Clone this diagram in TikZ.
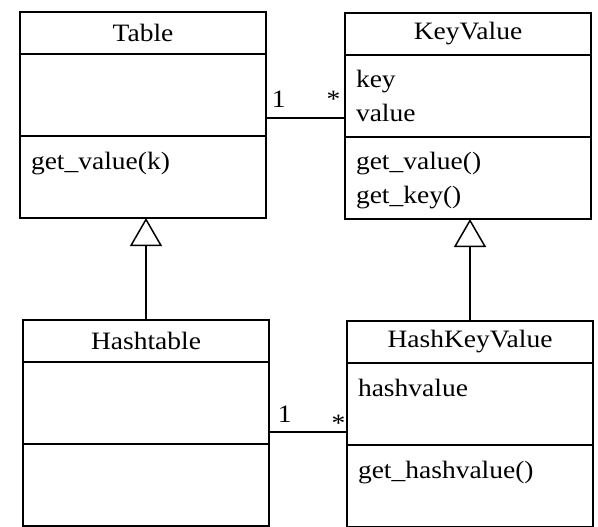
\documentclass[tikz,border=0pt]{standalone}
\usepackage{fontspec}
\setmainfont{Liberation Serif}[FakeStretch=1.1]
\usetikzlibrary{arrows.meta, positioning}
\tikzset{
	classhead/.style={rectangle, draw=black, line width=1.5pt, outer sep=0pt, inner xsep=11pt, inner ysep=0pt, text width=224pt, minimum height=42pt, align=center, font=\fontsize{25}{34}\selectfont},
	classpart/.style={rectangle, draw=black, line width=1.5pt, outer sep=0pt, inner xsep=11pt, inner ysep=0pt, text width=224pt, text height=33pt, text depth=49pt, align=left, font=\fontsize{25}{34}\selectfont},
	inherit/.style={-{Triangle[open, length=28pt, width=32pt]}, line width=1.5pt},
	assoc/.style={line width=1.5pt},
	mult/.style={inner sep=0pt, font=\fontsize{25}{34}\selectfont},
}

\begin{document}
\begin{tikzpicture}
	\useasboundingbox (0,0) rectangle (598pt,-527pt);
	\node[classhead, anchor=north west] (table) at (20pt,-12pt) {Table};
	\node[classpart, below=0pt of table] (table-attr) {};
	\node[classpart, below=0pt of table-attr] (table-ops) {get\_value(k)};
	\node[classhead, anchor=north west] (keyvalue) at (345pt,-13pt) {KeyValue};
	\node[classpart, below=0pt of keyvalue] (keyvalue-attr) {key\\value};
	\node[classpart, below=0pt of keyvalue-attr] (keyvalue-ops) {get\_value()\\get\_key()};
	\node[classhead, anchor=north west] (hashtable) at (23pt,-320pt) {Hashtable};
	\node[classpart, below=0pt of hashtable] (hashtable-attr) {};
	\node[classpart, below=0pt of hashtable-attr] (hashtable-ops) {};
	\node[classhead, anchor=north west] (hashkeyvalue) at (347pt,-321pt) {HashKeyValue};
	\node[classpart, below=0pt of hashkeyvalue] (hashkeyvalue-attr) {hashvalue};
	\node[classpart, below=0pt of hashkeyvalue-attr] (hashkeyvalue-ops) {get\_hashvalue()};

	\draw[inherit] (hashtable.north) -- (hashtable.north |- table-ops.south);
	\draw[inherit] (hashkeyvalue.north) -- (hashkeyvalue.north |- keyvalue-ops.south);

	\coordinate (upper-link) at ([yshift=18pt]table-attr.south east);
	\coordinate (lower-link) at ([yshift=12pt]hashtable-attr.south east);
	\draw[assoc] (upper-link) -- (upper-link -| keyvalue-attr.west)
		node[mult, pos=0, anchor=base west, xshift=5pt, yshift=10pt] {1}
		node[mult, pos=1, anchor=base east, xshift=-4pt, yshift=10pt] {*};
	\draw[assoc] (lower-link) -- (lower-link -| hashkeyvalue-attr.west)
		node[mult, pos=0, anchor=base west, xshift=8pt, yshift=10pt] {1}
		node[mult, pos=1, anchor=base east, xshift=-1pt, yshift=1pt] {*};
\end{tikzpicture}
\end{document}
